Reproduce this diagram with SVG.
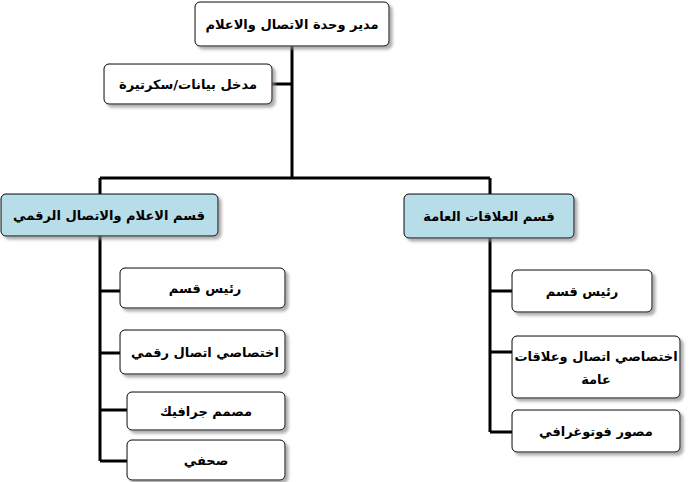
<svg xmlns="http://www.w3.org/2000/svg" width="691" height="482" viewBox="0 0 691 482">
<defs>
<filter id="sh" x="-10%" y="-10%" width="130%" height="140%"><feDropShadow dx="3" dy="3" stdDeviation="1.5" flood-color="#888" flood-opacity="0.7"/></filter>
</defs>
<style>
.b{fill:#fff;stroke:#000;stroke-width:1;filter:url(#sh)}
.d{fill:#b7dde8;stroke:#000;stroke-width:1;filter:url(#sh)}
text{font-family:"DejaVu Sans","Liberation Sans",sans-serif;font-weight:bold;font-size:13px;text-anchor:middle;direction:rtl}
.c{stroke:#000;stroke-width:3;fill:none}
</style>
<rect width="691" height="482" fill="#fff"/>
<g id="connectors">
<path class="c" d="M292 46V178M272 84H292M100 178H490M100 178V461M100 291H120M100 353H120M100 410H127M100 461H127M490 178V432M490 291H512M490 352H512M490 432H512"/>
</g>
<g id="n1"><rect class="b" x="195" y="2" width="194" height="44" rx="5"/><text x="292" y="29">مدير وحدة الاتصال والاعلام</text></g>
<g id="n2"><rect class="b" x="104" y="64" width="168" height="40" rx="5"/><text x="188" y="89">مدخل بيانات/سكرتيرة</text></g>
<g id="n3"><rect class="d" x="1" y="194" width="217" height="42" rx="5"/><text x="109" y="220">قسم الاعلام والاتصال الرقمي</text></g>
<g id="n4"><rect class="d" x="404" y="194" width="170" height="44" rx="5"/><text x="489" y="221">قسم العلاقات العامة</text></g>
<g id="n5"><rect class="b" x="120" y="268" width="165" height="40" rx="5"/><text x="205" y="293">رئيس قسم</text></g>
<g id="n6"><rect class="b" x="120" y="330" width="165" height="44" rx="5"/><text x="205" y="357">اختصاصي اتصال رقمي</text></g>
<g id="n7"><rect class="b" x="127" y="392" width="158" height="38" rx="5"/><text x="206" y="416">مصمم جرافيك</text></g>
<g id="n8"><rect class="b" x="127" y="440" width="158" height="40" rx="5"/><text x="206" y="465">صحفي</text></g>
<g id="n9"><rect class="b" x="512" y="270" width="140" height="42" rx="5"/><text x="582" y="296">رئيس قسم</text></g>
<g id="n10"><rect class="b" x="512" y="336" width="168" height="62" rx="5"/><text x="596" y="361">اختصاصي اتصال وعلاقات</text><text x="596" y="384">عامة</text></g>
<g id="n11"><rect class="b" x="512" y="410" width="168" height="42" rx="5"/><text x="596" y="436">مصور فوتوغرافي</text></g>
</svg>
